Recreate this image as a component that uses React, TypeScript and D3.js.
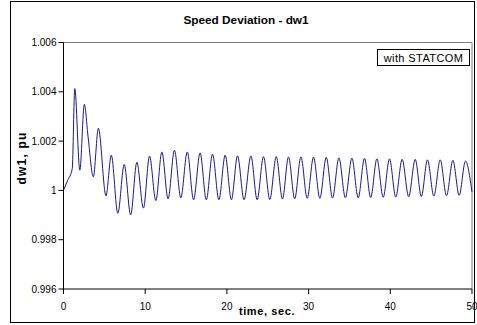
import React from "react";
import * as d3 from "d3";

// Extrema of the dw1 trace (time s, value pu)
const timeSec = [
  0, 0.5, 1.07, 1.38, 2.0, 2.55, 3.0, 3.65, 4.27, 5.2, 5.85, 6.65, 7.43, 8.22, 8.98,
  9.78, 10.53, 11.3, 12.04, 12.8, 13.58, 14.36, 15.15, 15.92, 16.72, 17.48, 18.24,
  19.02, 19.79, 20.55, 21.3, 22.1, 22.94, 23.7, 24.48, 25.25, 26.04, 26.8, 27.54,
  28.3, 29.06, 29.83, 30.6, 31.38, 32.16, 32.93, 33.71, 34.5, 35.3, 36.07, 36.84,
  37.6, 38.36, 39.13, 39.9, 40.67, 41.45, 42.25, 43.05, 43.8, 44.55, 45.33, 46.11,
  46.88, 47.66, 48.43, 49.2, 50,
];
const dw1 = [
  1.0, 1.0004, 1.00088, 1.00413, 1.00082, 1.00349, 1.0022, 1.00055, 1.00252, 0.99978,
  1.00143, 0.99907, 1.00105, 0.99901, 1.00114, 0.99928, 1.00139, 0.99959, 1.00156,
  0.99966, 1.00163, 0.9997, 1.00156, 0.99962, 1.00152, 0.99962, 1.00147, 0.99962,
  1.00143, 0.99962, 1.0014, 0.99962, 1.0014, 0.99962, 1.00137, 0.99963, 1.00137,
  0.99965, 1.00136, 0.99966, 1.00136, 0.99968, 1.00135, 0.99968, 1.00134, 0.99969,
  1.00132, 0.9997, 1.00131, 0.9997, 1.0013, 0.99971, 1.00128, 0.99972, 1.00128,
  0.99973, 1.00126, 0.99974, 1.00126, 0.99975, 1.00124, 0.99977, 1.00124, 0.99978,
  1.00122, 0.9998, 1.00119, 0.99993,
];
const yTicks = [0.996, 0.998, 1, 1.002, 1.004, 1.006];
const yTickLabels = ["0.996", "0.998", "1", "1.002", "1.004", "1.006"];
const xTicks = [0, 10, 20, 30, 40, 50];

const W = 477;
const H = 325;
const L = 63.5;
const R = 472;
const T = 42.5;
const B = 289;

export default function App() {
  const x = d3.scaleLinear().domain([0, 50]).range([L, R]);
  const y = d3.scaleLinear().domain([0.996, 1.006]).range([B, T]);
  const pts: [number, number][] = timeSec.map((t, i) => [t, dw1[i]]);
  const line = d3
    .line<[number, number]>()
    .x((d) => x(d[0]))
    .y((d) => y(d[1]))
    .curve(d3.curveMonotoneX);
  const font = "Arial, 'Liberation Sans', sans-serif";
  return (
    <svg
      width={W}
      height={H}
      style={{ position: "absolute", left: 0, top: 0, background: "#fff" }}
      fontFamily={font}
    >
      <rect x={0} y={0} width={W} height={H} fill="#fff" />
      <rect x={10.5} y={1.5} width={464} height={321} fill="none" stroke="#000" strokeWidth={1} />
      <text x={246} y={24} textAnchor="middle" fontSize={11.8} fontWeight="bold">
        Speed Deviation - dw1
      </text>
      {/* plot area border */}
      <line x1={L} x2={R} y1={T} y2={T} stroke="#808080" />
      <line x1={R} x2={R} y1={T} y2={B} stroke="#808080" />
      <path d={line(pts) || ""} fill="none" stroke="#1a1a8c" strokeWidth={1} />
      {/* axes */}
      <line x1={L} x2={L} y1={T} y2={B} stroke="#000" />
      <line x1={L} x2={R} y1={B} y2={B} stroke="#000" />
      {yTicks.map((v, i) => (
        <g key={v}>
          <line x1={L - 5} x2={L} y1={y(v)} y2={y(v)} stroke="#000" />
          <text x={L - 7} y={y(v) + 3.5} textAnchor="end" fontSize={10}>
            {yTickLabels[i]}
          </text>
        </g>
      ))}
      {xTicks.map((v) => (
        <g key={v}>
          <line x1={x(v)} x2={x(v)} y1={B} y2={B + 5} stroke="#000" />
          <text x={x(v)} y={B + 21} textAnchor="middle" fontSize={10}>
            {v}
          </text>
        </g>
      ))}
      <text x={267} y={315} textAnchor="middle" fontSize={11} fontWeight="bold" letterSpacing={0.6}>
        time, sec.
      </text>
      <text
        transform={`translate(26,158) rotate(-90)`}
        textAnchor="middle"
        fontSize={12}
        fontWeight="bold"
        letterSpacing={1.2}
      >
        dw1, pu
      </text>
      <rect x={377.5} y={49.5} width={92} height={16} fill="#fff" stroke="#000" />
      <text x={423.5} y={61.5} textAnchor="middle" fontSize={11} letterSpacing={0.4}>
        with STATCOM
      </text>
    </svg>
  );
}
